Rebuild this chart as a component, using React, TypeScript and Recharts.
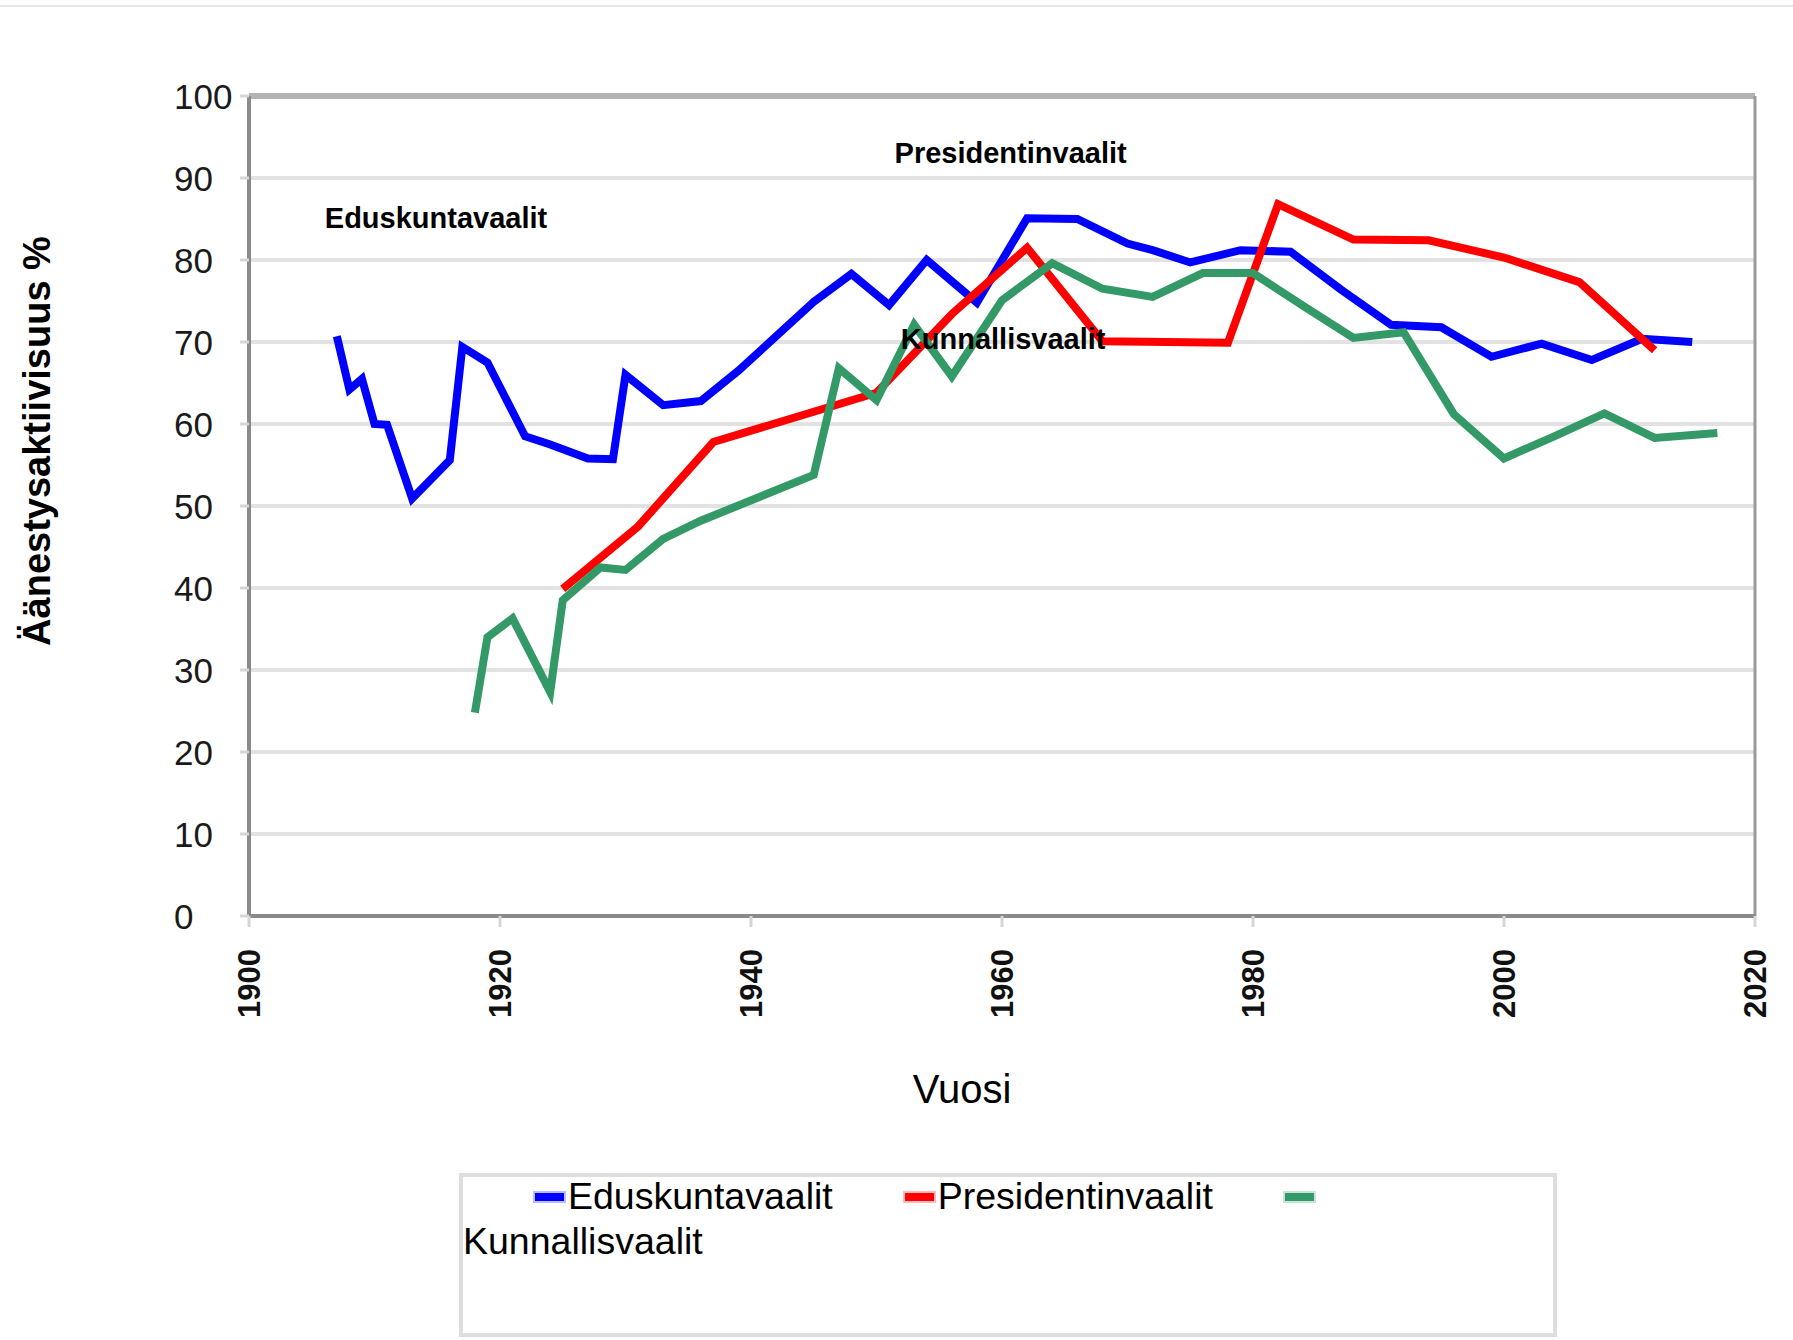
import {
  CartesianGrid,
  Legend,
  Line,
  LineChart,
  ReferenceDot,
  ReferenceLine,
  XAxis,
  YAxis,
} from "recharts";

const eduskuntaYears = [
  1907, 1908, 1909, 1910, 1911, 1913, 1916, 1917, 1919, 1922, 1924, 1927, 1929,
  1930, 1933, 1936, 1939, 1945, 1948, 1951, 1954, 1958, 1962, 1966, 1970, 1972,
  1975, 1979, 1983, 1987, 1991, 1995, 1999, 2003, 2007, 2011, 2015,
];
const eduskuntaTurnout = [
  70.7, 64.2, 65.5, 60.0, 59.9, 50.9, 55.6, 69.4, 67.5, 58.5, 57.5, 55.8, 55.7,
  66.0, 62.3, 62.8, 66.5, 74.9, 78.3, 74.5, 80.0, 74.8, 85.1, 85.0, 82.0, 81.2,
  79.7, 81.2, 81.0, 76.4, 72.1, 71.8, 68.2, 69.8, 67.8, 70.4, 70.0,
];

const presidentYears = [
  1925, 1931, 1937, 1950, 1956, 1962, 1968, 1978, 1982, 1988, 1994, 2000, 2006,
  2012,
];
const presidentTurnout = [
  39.9, 47.5, 57.8, 63.8, 73.4, 81.5, 70.1, 69.9, 86.8, 82.5, 82.4, 80.3, 77.3,
  69.0,
];

const kunnallisYears = [
  1918, 1919, 1921, 1924, 1925, 1928, 1930, 1933, 1936, 1945, 1947, 1950, 1953,
  1956, 1960, 1964, 1968, 1972, 1976, 1980, 1984, 1988, 1992, 1996, 2000, 2004,
  2008, 2012, 2017,
];
const kunnallisTurnout = [
  24.8, 34.0, 36.3, 27.3, 38.5, 42.5, 42.2, 46.0, 48.2, 53.8, 66.8, 62.9, 72.1,
  65.8, 75.1, 79.6, 76.5, 75.5, 78.4, 78.4, 74.4, 70.5, 71.2, 61.2, 55.8, 58.5,
  61.3, 58.3, 58.9,
];

const seriesNames = ["Eduskuntavaalit", "Presidentinvaalit", "Kunnallisvaalit"];
const seriesColors = ["#0000ff", "#ff0000", "#339966"];

const xTicks = [1900, 1920, 1940, 1960, 1980, 2000, 2020];
const yTicks = [0, 10, 20, 30, 40, 50, 60, 70, 80, 90, 100];

const yAxisTitle = "Äänestysaktiivisuus %";
const xAxisTitle = "Vuosi";

// in-plot series labels, anchored at the start of the text baseline
const noteLabels = [
  { text: "Eduskuntavaalit", year: 1906.2, value: 83.9 },
  { text: "Presidentinvaalit", year: 1951.6, value: 91.8 },
  { text: "Kunnallisvaalit", year: 1952.1, value: 69.2 },
];

const fontFamily = '"Liberation Sans", Arial, sans-serif';

interface TurnoutDatum {
  year: number;
  turnout: number;
}

function buildSeries(years: number[], values: number[]): TurnoutDatum[] {
  return years.map((year, index) => ({ year, turnout: values[index] }));
}

const seriesData = [
  buildSeries(eduskuntaYears, eduskuntaTurnout),
  buildSeries(presidentYears, presidentTurnout),
  buildSeries(kunnallisYears, kunnallisTurnout),
];

function renderYTick(props: any) {
  const { y, payload } = props;
  return (
    <text
      x={174}
      y={y}
      textAnchor="start"
      dominantBaseline="central"
      fontFamily={fontFamily}
      fontSize={35}
      fill="#1a1a1a"
    >
      {payload.value}
    </text>
  );
}

function renderXTick(props: any) {
  const { x, y, payload } = props;
  return (
    <text
      x={x}
      y={y}
      transform={`rotate(-90 ${x} ${y})`}
      textAnchor="end"
      dominantBaseline="central"
      fontFamily={fontFamily}
      fontSize={31}
      fontWeight="bold"
      fill="#111"
    >
      {payload.value}
    </text>
  );
}

function renderYTitle(props: any) {
  const { viewBox } = props;
  const x = viewBox.x + 50;
  const y = 441;
  return (
    <text
      x={x}
      y={y}
      transform={`rotate(-90 ${x} ${y})`}
      textAnchor="middle"
      fontFamily={fontFamily}
      fontSize={38}
      fontWeight="bold"
      fill="#000"
    >
      {yAxisTitle}
    </text>
  );
}

function renderXTitle(props: any) {
  const { viewBox } = props;
  return (
    <text
      x={viewBox.x + 713}
      y={1103}
      textAnchor="middle"
      fontFamily={fontFamily}
      fontSize={40}
      fill="#000"
    >
      {xAxisTitle}
    </text>
  );
}

function makeNoteLabel(text: string) {
  return function NoteLabel(props: any) {
    const { viewBox } = props;
    return (
      <text
        x={viewBox.x - 2}
        y={viewBox.y}
        textAnchor="start"
        fontFamily={fontFamily}
        fontSize={29}
        fontWeight="bold"
        fill="#000"
      >
        {text}
      </text>
    );
  };
}

function BoxedLegend() {
  return (
    <div
      style={{
        boxSizing: "border-box",
        width: 1098,
        height: 164,
        border: "4px solid #dedede",
        background: "#fff",
        fontFamily,
        fontSize: 37.5,
        color: "#000",
        overflow: "visible",
      }}
    >
      <div style={{ marginTop: -3, lineHeight: "45px", textIndent: 72 }}>
        {seriesNames.map((name, index) => (
          <span key={name}>
            <span
              style={{
                display: "inline-block",
                width: 29,
                height: 8,
                marginRight: 4,
                verticalAlign: 8,
                background: seriesColors[index],
                boxShadow: `0 0 0 2px ${seriesColors[index]}44`,
              }}
            />
            <wbr />
            {name}
            <span style={{ display: "inline-block", width: 72 }} />
            <wbr />
          </span>
        ))}
      </div>
    </div>
  );
}

export default function App() {
  return (
    <div
      style={{
        position: "absolute",
        left: 0,
        top: 0,
        width: 1793,
        height: 1340,
        background: "#fff",
        overflow: "hidden",
      }}
    >
      <div
        style={{
          position: "absolute",
          left: 0,
          top: 5,
          width: 1793,
          height: 2,
          background: "#e6e6e6",
        }}
      />
      <LineChart
        width={1793}
        height={1340}
        margin={{ top: 96, right: 38, bottom: 284, left: 0 }}
      >
        <CartesianGrid
          vertical={false}
          stroke="#e2e2e2"
          strokeWidth={4}
        />
        <XAxis
          type="number"
          dataKey="year"
          domain={[1900, 2020]}
          ticks={xTicks}
          height={140}
          tickSize={11}
          tickMargin={22}
          axisLine={{ stroke: "#8a8a8a", strokeWidth: 4 }}
          tickLine={{ stroke: "#d6d6d6", strokeWidth: 3 }}
          tick={renderXTick}
          label={renderXTitle}
        />
        <YAxis
          type="number"
          domain={[0, 100]}
          ticks={yTicks}
          width={249}
          tickSize={9}
          axisLine={{ stroke: "#8a8a8a", strokeWidth: 4 }}
          tickLine={{ stroke: "#d6d6d6", strokeWidth: 3 }}
          tick={renderYTick}
          label={renderYTitle}
        />
        <ReferenceLine y={100} stroke="#b3b3b3" strokeWidth={6} />
        <ReferenceLine x={2020} stroke="#9a9a9a" strokeWidth={3} />
        {seriesNames.map((name, index) => (
          <Line
            key={name}
            name={name}
            data={seriesData[index]}
            dataKey="turnout"
            type="linear"
            stroke={seriesColors[index]}
            strokeWidth={8}
            dot={false}
            activeDot={false}
            isAnimationActive={false}
          />
        ))}
        {noteLabels.map((note) => (
          <ReferenceDot
            key={note.text}
            x={note.year}
            y={note.value}
            r={0}
            fill="none"
            stroke="none"
            label={makeNoteLabel(note.text)}
          />
        ))}
        <Legend
          layout="horizontal"
          align="center"
          verticalAlign="middle"
          content={() => <BoxedLegend />}
          wrapperStyle={{
            position: "absolute",
            left: 459,
            top: 1173,
            width: 1098,
            height: 164,
            margin: 0,
          }}
        />
      </LineChart>
    </div>
  );
}
